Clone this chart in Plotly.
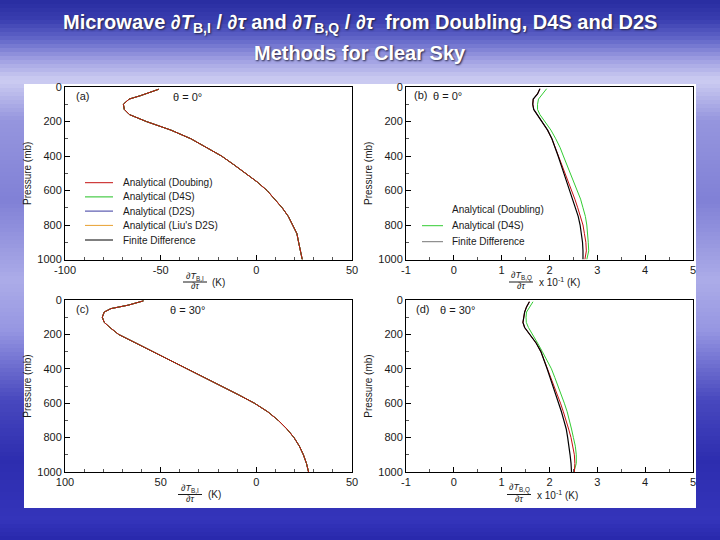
import plotly.graph_objects as go

W, H = 720, 540

# ---------------- data ----------------
# Panel (a): dT_B,I/dtau, theta = 0 deg (all methods overlap)
p_a = [13, 30, 50, 70, 100, 130, 160, 200, 250, 300, 350, 400, 450, 500,
       550, 600, 650, 700, 750, 800, 850, 900, 950, 1000]
dTBI_0 = [-51, -55, -60.5, -66.5, -69.5, -69, -66.3, -57.5, -44.6, -34.2, -25.8,
          -18.2, -11.8, -5.4, 0.4, 5.6, 9.8, 13.5, 16.7, 18.9, 21.2, 22.1, 23.1, 24]

# Panel (c): dT_B,I/dtau, theta = 30 deg
p_c = [5, 30, 50, 70, 100, 130, 160, 200, 250, 300, 350, 400, 450, 500,
       550, 600, 650, 700, 750, 800, 850, 900, 950, 1000]
dTBI_30 = [-59, -67, -76, -79.5, -80.5, -79.5, -76.5, -72, -63, -54, -45, -36.5,
           -27.5, -18.5, -9.5, -1, 6, 11.5, 16, 19.7, 22.5, 24.6, 26.2, 27.3]

# Panels (b), (d): dT_B,Q/dtau
p_q = [10, 40, 70, 100, 130, 160, 200, 250, 300, 350, 400, 450, 500, 550,
       600, 650, 700, 750, 800, 850, 900, 950, 1000]
q0_doubling = [1.80, 1.75, 1.66, 1.65, 1.67, 1.74, 1.85, 1.96, 2.05, 2.12, 2.19, 2.26,
               2.33, 2.40, 2.46, 2.53, 2.59, 2.65, 2.70, 2.73, 2.76, 2.77, 2.74]
q0_d4s = [1.94, 1.85, 1.77, 1.75, 1.75, 1.80, 1.90, 2.03, 2.13, 2.22, 2.29, 2.36,
          2.44, 2.51, 2.58, 2.65, 2.70, 2.75, 2.78, 2.80, 2.81, 2.82, 2.78]
q0_fd = [1.80, 1.75, 1.66, 1.65, 1.67, 1.74, 1.85, 1.96, 2.05, 2.12, 2.18, 2.24,
         2.30, 2.36, 2.42, 2.48, 2.54, 2.60, 2.64, 2.67, 2.69, 2.70, 2.70]

q30_doubling = [1.58, 1.52, 1.48, 1.46, 1.445, 1.48, 1.58, 1.72, 1.82, 1.89, 1.95, 2.03,
                2.09, 2.16, 2.23, 2.29, 2.35, 2.40, 2.45, 2.49, 2.52, 2.53, 2.52]
q30_d4s = [1.655, 1.58, 1.52, 1.51, 1.515, 1.56, 1.65, 1.75, 1.85, 1.95, 2.04, 2.11,
           2.18, 2.25, 2.31, 2.37, 2.42, 2.46, 2.50, 2.54, 2.56, 2.56, 2.51]
q30_fd = [1.58, 1.52, 1.48, 1.46, 1.445, 1.48, 1.58, 1.72, 1.82, 1.89, 1.95, 2.01,
          2.07, 2.13, 2.20, 2.25, 2.30, 2.35, 2.38, 2.41, 2.43, 2.45, 2.46]

methods_I = ["Analytical (Doubing)", "Analytical (D4S)", "Analytical (D2S)",
             "Analytical (Liu's D2S)", "Finite Difference"]
methods_Q = ["Analytical (Doubling)", "Analytical (D4S)", "Finite Difference"]
colors_I = ["#c41010", "#22c022", "#3a3aa0", "#e8a030", "#000000"]

xticks_I = [-100, -50, 0, 50]
xticktext_a = ["-100", "-50", "0", "50"]
xticktext_c = ["100", "50", "0", "50"]
yticks = [0, 200, 400, 600, 800, 1000]
xticks_Q = [-1, 0, 1, 2, 3, 4, 5]

# ---------------- helpers ----------------
def px(x):
    return x / W

def py(y):
    return 1 - y / H

FONT = "Liberation Sans, Arial, sans-serif"
TXT = "#1a1a1a"
fig = go.Figure()

# Panel (a) and (c): draw all five methods (they overlap), red last on top
for xs, ys, ax in [(dTBI_0, p_a, ("x", "y")), (dTBI_30, p_c, ("x3", "y3"))]:
    for name, col in reversed(list(zip(methods_I, colors_I))):
        fig.add_trace(go.Scatter(x=xs, y=ys, mode="lines", name=name,
                                 line=dict(color=col, width=1),
                                 xaxis=ax[0], yaxis=ax[1], showlegend=False))

for (fd, dbl, d4s), ax in [((q0_fd, q0_doubling, q0_d4s), ("x2", "y2")),
                           ((q30_fd, q30_doubling, q30_d4s), ("x4", "y4"))]:
    fig.add_trace(go.Scatter(x=d4s, y=p_q, mode="lines", name=methods_Q[1],
                             line=dict(color="#33cc33", width=1),
                             xaxis=ax[0], yaxis=ax[1], showlegend=False))
    fig.add_trace(go.Scatter(x=dbl, y=p_q, mode="lines", name=methods_Q[0],
                             line=dict(color="#c41010", width=1),
                             xaxis=ax[0], yaxis=ax[1], showlegend=False))
    fig.add_trace(go.Scatter(x=fd, y=p_q, mode="lines", name=methods_Q[2],
                             line=dict(color="#000000", width=1.2),
                             xaxis=ax[0], yaxis=ax[1], showlegend=False))

# ---------------- axes ----------------
left_dom = [px(65), px(352)]
right_dom = [px(406), px(693)]
top_dom = [py(259.5), py(87)]
bot_dom = [py(472), py(300)]

common = dict(showline=True, linecolor="black", linewidth=1, mirror=True,
              ticks="inside", ticklen=5, tickcolor="black", showgrid=False,
              zeroline=False, automargin=False,
              tickfont=dict(family=FONT, size=11, color=TXT))

def xax(dom, anchor, rng, tv, tt, minor_dt):
    d = dict(common)
    d.update(domain=dom, anchor=anchor, range=rng, tickvals=tv, ticktext=tt,
             minor=dict(ticks="inside", ticklen=3, dtick=minor_dt, tickcolor="#555"))
    return d

def yax(dom, anchor):
    d = dict(common)
    d.update(domain=dom, anchor=anchor, range=[1000, 0], tickvals=yticks,
             title=dict(text="Pressure (mb)", standoff=3,
                        font=dict(family=FONT, size=10, color=TXT)),
             minor=dict(ticks="inside", ticklen=3, dtick=100, tickcolor="#555"))
    return d

fig.update_layout(
    template="none",
    xaxis=xax(left_dom, "y", [-100, 50], xticks_I, xticktext_a, 10),
    yaxis=yax(top_dom, "x"),
    xaxis2=xax(right_dom, "y2", [-1, 5], xticks_Q, [str(v) for v in xticks_Q], 0.5),
    yaxis2=yax(top_dom, "x2"),
    xaxis3=xax(left_dom, "y3", [-100, 50], xticks_I, xticktext_c, 10),
    yaxis3=yax(bot_dom, "x3"),
    xaxis4=xax(right_dom, "y4", [-1, 5], xticks_Q, [str(v) for v in xticks_Q], 0.5),
    yaxis4=yax(bot_dom, "x4"),
)

# ---------------- background (slide gradient) ----------------
stops = [(0, (40, 44, 160)), (20, (58, 62, 176)), (40, (100, 104, 202)),
         (60, (160, 160, 226)), (80, (205, 205, 242)), (120, (150, 150, 222)),
         (200, (128, 128, 214)), (280, (172, 172, 232)), (330, (150, 150, 226)),
         (400, (72, 72, 190)), (460, (45, 45, 175)), (520, (52, 52, 186)),
         (540, (40, 40, 172))]

def col_at(y):
    for (y0, c0), (y1, c1) in zip(stops[:-1], stops[1:]):
        if y0 <= y <= y1:
            t = (y - y0) / (y1 - y0)
            return "rgb(%d,%d,%d)" % tuple(round(a + (b - a) * t) for a, b in zip(c0, c1))
    return "rgb(40,40,172)"

shapes = []
step = 4
for y in range(0, H, step):
    shapes.append(dict(type="rect", xref="paper", yref="paper", layer="below",
                       x0=0, x1=1, y0=py(y + step), y1=py(y),
                       fillcolor=col_at(y + step / 2), line=dict(width=0)))
# white picture area
shapes.append(dict(type="rect", xref="paper", yref="paper", layer="below",
                   x0=px(24), x1=px(696), y0=py(508), y1=py(84),
                   fillcolor="white", line=dict(width=0)))

annotations = []

def ann(text, x, y, size=11, xanchor="center", color=TXT, **kw):
    annotations.append(dict(text=text, x=px(x), y=py(y), xref="paper", yref="paper",
                            showarrow=False, xanchor=xanchor, yanchor="middle",
                            font=dict(family=FONT, size=size, color=color), **kw))

# title
title_font = "Liberation Sans Narrow, Arial Narrow, Liberation Sans, Arial"
for txt, y in [("Microwave ∂<i>T</i><sub>B,I</sub> / ∂<i>τ</i> and ∂<i>T</i><sub>B,Q</sub> / ∂<i>τ</i>  from Doubling, D4S and D2S", 23),
               ("Methods for Clear Sky", 53)]:
    annotations.append(dict(text="<b>" + txt + "</b>", x=0.5, y=py(y), xref="paper",
                            yref="paper", showarrow=False, xanchor="center",
                            yanchor="middle",
                            font=dict(family=title_font, size=20, color="white",
                                      shadow="1px 1px 2px #202040")))

# panel labels
ann("(a)", 82, 96)
ann("θ = 0°", 187, 97)
ann("(b)", 420, 95)
ann("θ = 0°", 447, 96)
ann("(c)", 82, 309)
ann("θ = 30°", 187, 310)
ann("(d)", 422, 309)
ann("θ = 30°", 457, 310)

# x-axis titles (fractions)
def frac(xc, ynum, yden, num, suffix, sx):
    ann("∂<i>T</i><sub>" + num + "</sub>", xc, ynum, size=9)
    ann("∂<i>τ</i>", xc, yden, size=9)
    shapes.append(dict(type="line", xref="paper", yref="paper",
                       x0=px(xc - 12), x1=px(xc + 12), y0=py((ynum + yden) / 2 + 1),
                       y1=py((ynum + yden) / 2 + 1), line=dict(color=TXT, width=1)))
    ann(suffix, sx, (ynum + yden) / 2 + 1, size=10, xanchor="left")

frac(195, 276, 286, "B,I", "(K)", 210)
frac(521, 276, 286, "B,Q", "x 10<sup>-1</sup> (K)", 537)
frac(190, 488, 499, "B,I", "(K)", 206)
frac(519, 488, 499, "B,Q", "x 10<sup>-1</sup> (K)", 535)

# legend (a)
leg_a_y = [182.7, 196.9, 211.1, 225.4, 240]
for name, col, y in zip(methods_I, colors_I, leg_a_y):
    shapes.append(dict(type="line", xref="paper", yref="paper", x0=px(85), x1=px(113),
                       y0=py(y), y1=py(y), line=dict(color=col, width=1)))
    ann(name, 121, y, size=10, xanchor="left")

# legend (b)
leg_b = [(methods_Q[0], None, 210), (methods_Q[1], "#33cc33", 225.7),
         (methods_Q[2], "#777777", 241.7)]
for name, col, y in leg_b:
    if col:
        shapes.append(dict(type="line", xref="paper", yref="paper", x0=px(422), x1=px(443),
                           y0=py(y), y1=py(y), line=dict(color=col, width=1)))
    ann(name, 450, y, size=10, xanchor="left")

fig.update_layout(
    width=W, height=H, margin=dict(l=0, r=0, t=0, b=0, pad=0),
    paper_bgcolor="rgb(40,44,160)", plot_bgcolor="white",
    font=dict(family=FONT, color=TXT),
    shapes=shapes, annotations=annotations, showlegend=False,
)

fig.write_html("out.html", config={"displayModeBar": False},
               post_script="document.body.style.margin='0';document.body.style.overflow='hidden';")
